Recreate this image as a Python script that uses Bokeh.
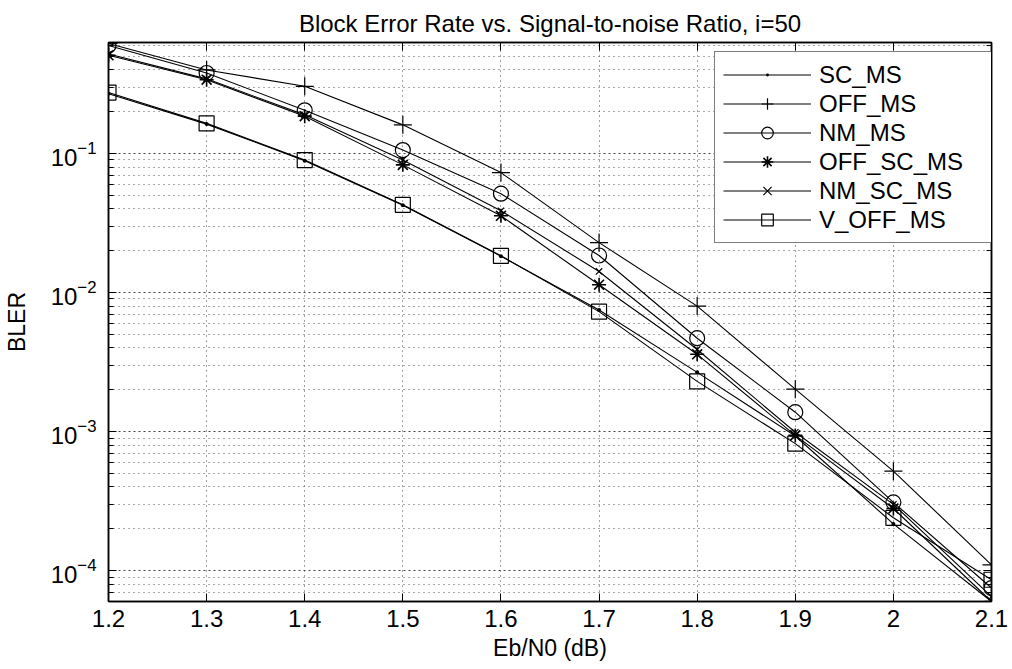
import math
from bokeh.plotting import figure
from bokeh.models import (FixedTicker, LogAxis, LinearAxis, Legend, LegendItem,
                          Range1d, LogTickFormatter)
from bokeh.embed import file_html
from bokeh.resources import INLINE

# ---------------- data ----------------
eb_n0 = [1.2, 1.3, 1.4, 1.5, 1.6, 1.7, 1.8, 1.9, 2.0, 2.1]

sc_ms     = [0.270, 0.163, 0.0890, 0.0425, 0.0183, 0.0075, 0.00267, 0.00093, 0.000217, 0.000060]
off_ms    = [0.620, 0.400, 0.3050, 0.1610, 0.0730, 0.0229, 0.00800, 0.00202, 0.000520, 0.000110]
nm_ms     = [0.600, 0.380, 0.2050, 0.1060, 0.0515, 0.0185, 0.00470, 0.00138, 0.000310, 0.000075]
off_sc_ms = [0.510, 0.340, 0.1860, 0.0830, 0.0357, 0.0114, 0.00360, 0.00094, 0.000280, 0.000060]
nm_sc_ms  = [0.520, 0.345, 0.1900, 0.0900, 0.0388, 0.0142, 0.00390, 0.00099, 0.000300, 0.000065]
v_off_ms  = [0.275, 0.165, 0.0898, 0.0428, 0.0184, 0.0073, 0.00230, 0.00082, 0.000240, 0.000086]

series_names = ["SC_MS", "OFF_MS", "NM_MS", "OFF_SC_MS", "NM_SC_MS", "V_OFF_MS"]

x_ticks = [1.2, 1.3, 1.4, 1.5, 1.6, 1.7, 1.8, 1.9, 2.0, 2.1]
x_tick_labels = ["1.2", "1.3", "1.4", "1.5", "1.6", "1.7", "1.8", "1.9", "2", "2.1"]
y_ticks = [1e-4, 1e-3, 1e-2, 1e-1]
y_minor_ticks = [k * 10.0 ** e for e in range(-5, 0) for k in range(2, 10)]

x_lo, x_hi = 1.2, 2.1
y_lo, y_hi = 6e-5, 0.63

title_text = "Block Error Rate vs. Signal-to-noise Ratio, i=50"
x_label = "Eb/N0 (dB)"
y_label = "BLER"

FONT = "Liberation Sans"
INK = "black"

# ---------------- figure ----------------
p = figure(width=1012, height=669, y_axis_type="log",
           x_range=Range1d(x_lo, x_hi), y_range=Range1d(y_lo, y_hi),
           output_backend="svg", toolbar_location=None,
           min_border_left=107, min_border_right=21,
           min_border_top=42, min_border_bottom=68)
p.background_fill_color = "white"
p.border_fill_color = "white"
p.outline_line_color = INK
p.outline_line_width = 1.5

p.title.text = title_text
p.title.align = "center"
p.title.text_font = FONT
p.title.text_font_size = "24px"
p.title.text_font_style = "normal"
p.title.text_color = INK
p.title.standoff = 12

# bottom axis
xa = p.xaxis[0]
xa.ticker = FixedTicker(ticks=x_ticks)
xa.major_label_overrides = {t: l for t, l in zip(x_ticks, x_tick_labels)}
xa.major_tick_in = 8
xa.major_tick_out = 0
xa.minor_tick_line_color = None
xa.axis_line_color = INK
xa.axis_line_width = 1.5
xa.major_tick_line_color = INK
xa.major_label_text_font = FONT
xa.major_label_text_font_size = "24px"
xa.major_label_text_color = INK
xa.major_label_standoff = 8
xa.axis_label = x_label
xa.axis_label_text_font = FONT
xa.axis_label_text_font_size = "23px"
xa.axis_label_text_font_style = "normal"
xa.axis_label_text_color = INK
xa.axis_label_standoff = 5

# left axis
ya = p.yaxis[0]
ya.ticker = FixedTicker(ticks=y_ticks, minor_ticks=y_minor_ticks)
ya.formatter = LogTickFormatter()
ya.major_tick_in = 8
ya.major_tick_out = 0
ya.minor_tick_in = 5
ya.minor_tick_out = 0
ya.axis_line_color = INK
ya.axis_line_width = 1.5
ya.major_tick_line_color = INK
ya.minor_tick_line_color = INK
ya.major_label_text_font = FONT
ya.major_label_text_font_size = "24px"
ya.major_label_text_color = INK
ya.major_label_standoff = 12
ya.axis_label = y_label
ya.axis_label_text_font = FONT
ya.axis_label_text_font_size = "23px"
ya.axis_label_text_font_style = "normal"
ya.axis_label_text_color = INK
ya.axis_label_standoff = 18

# top and right axes (box ticks, no labels)
top_ax = LinearAxis(ticker=FixedTicker(ticks=x_ticks),
                    major_label_overrides={t: "" for t in x_ticks},
                    major_tick_in=8, major_tick_out=0, minor_tick_line_color=None,
                    axis_line_color=INK, axis_line_width=1.5, major_label_standoff=0)
p.add_layout(top_ax, "above")
right_ax = LogAxis(ticker=FixedTicker(ticks=y_ticks, minor_ticks=y_minor_ticks),
                   major_label_overrides={t: "" for t in y_ticks},
                   major_tick_in=8, major_tick_out=0, minor_tick_in=5, minor_tick_out=0,
                   axis_line_color=INK, axis_line_width=1.5, major_label_standoff=0)
p.add_layout(right_ax, "right")

# grids (dotted, MATLAB style)
p.xgrid.ticker = FixedTicker(ticks=x_ticks)
p.xgrid.grid_line_color = "#444444"
p.xgrid.grid_line_dash = "1 4"
p.xgrid.grid_line_width = 1
p.ygrid.grid_line_color = "#444444"
p.ygrid.grid_line_dash = "2 3"
p.ygrid.grid_line_width = 1
p.ygrid.minor_grid_line_color = "#555555"
p.ygrid.minor_grid_line_dash = "1 4"
p.ygrid.minor_grid_line_width = 1

# ---------------- series ----------------
styles = {
    "SC_MS":     dict(marker="dot",      size=16, fill_color=INK, line_width=1.5),
    "OFF_MS":    dict(marker="cross",    size=18, fill_color=None, line_width=1.2),
    "NM_MS":     dict(marker="circle",   size=15, fill_color=None, line_width=1.2),
    "OFF_SC_MS": dict(marker="asterisk", size=14, fill_color=None, line_width=1.6),
    "NM_SC_MS":  dict(marker="x",        size=9,  fill_color=None, line_width=1.2),
    "V_OFF_MS":  dict(marker="square",   size=15, fill_color=None, line_width=1.2),
}
data = {"SC_MS": sc_ms, "OFF_MS": off_ms, "NM_MS": nm_ms,
        "OFF_SC_MS": off_sc_ms, "NM_SC_MS": nm_sc_ms, "V_OFF_MS": v_off_ms}

items = []
for name in series_names:
    ys = data[name]
    st = styles[name]
    lr = p.line(eb_n0, ys, line_color=INK, line_width=1.1)
    sr = p.scatter(eb_n0, ys, marker=st["marker"], size=st["size"],
                   line_color=INK, fill_color=st["fill_color"], line_width=st["line_width"])
    items.append(LegendItem(label=name, renderers=[lr, sr]))

legend = Legend(items=items, location=(606, 358),
                border_line_color=INK, border_line_width=1.5,
                background_fill_color="white", background_fill_alpha=1.0,
                label_text_font=FONT, label_text_font_size="24px", label_text_color=INK,
                glyph_width=88, glyph_height=29, label_height=29, label_width=168,
                label_standoff=8, spacing=0, padding=8, margin=0)
p.add_layout(legend, "center")

open("out.html", "w").write(file_html(p, INLINE))
